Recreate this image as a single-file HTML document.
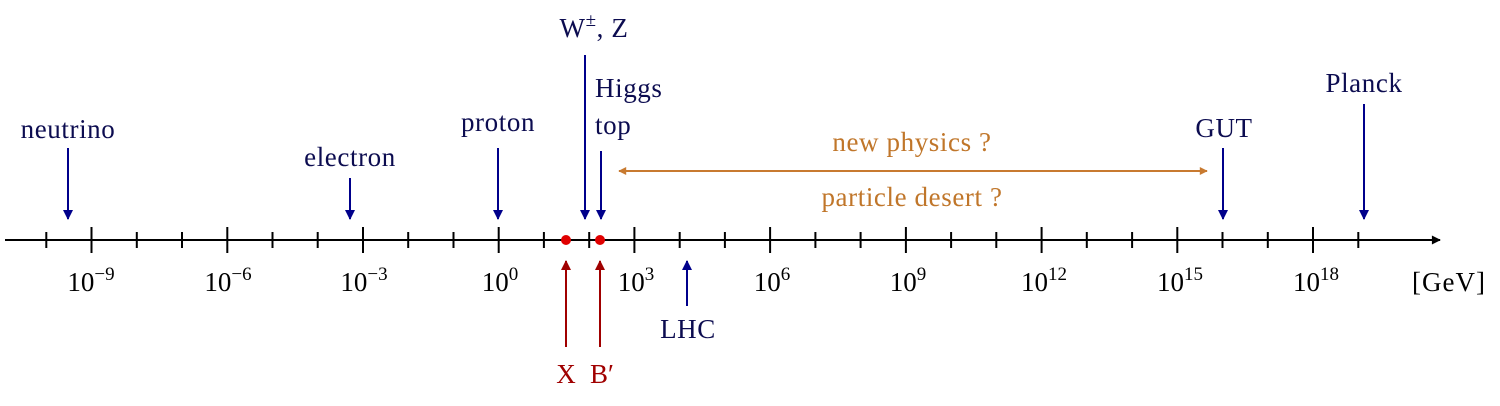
<!DOCTYPE html>
<html><head><meta charset="utf-8"><style>html,body{margin:0;padding:0;background:#fff}svg{display:block}</style></head>
<body>
<svg width="1500" height="406" viewBox="0 0 1500 406" xmlns="http://www.w3.org/2000/svg" font-family="'Liberation Serif', serif">
<defs>
<marker id="ab" viewBox="0 0 10 10" refX="9" refY="5" markerWidth="12" markerHeight="10" markerUnits="userSpaceOnUse" orient="auto"><path d="M0,0 L10,5 L0,10 z" fill="#00008b"/></marker>
<marker id="ar" viewBox="0 0 10 10" refX="9" refY="5" markerWidth="12" markerHeight="10" markerUnits="userSpaceOnUse" orient="auto"><path d="M0,0 L10,5 L0,10 z" fill="#a00000"/></marker>
<marker id="ao" viewBox="0 0 10 10" refX="9" refY="5" markerWidth="11" markerHeight="8" markerUnits="userSpaceOnUse" orient="auto-start-reverse"><path d="M0,0 L10,5 L0,10 z" fill="#c87a30"/></marker>
<marker id="ak" viewBox="0 0 10 10" refX="9" refY="5" markerWidth="12" markerHeight="9" markerUnits="userSpaceOnUse" orient="auto"><path d="M0,0 L10,5 L0,10 z" fill="#000"/></marker>
</defs>
<line x1="5" y1="240" x2="1440" y2="240" stroke="#000" stroke-width="2" marker-end="url(#ak)"/>
<g stroke="#000" stroke-width="2">
<line x1="46.3" y1="232" x2="46.3" y2="248"/><line x1="91.5" y1="227" x2="91.5" y2="253"/><line x1="136.8" y1="232" x2="136.8" y2="248"/><line x1="182" y1="232" x2="182" y2="248"/><line x1="227.3" y1="227" x2="227.3" y2="253"/><line x1="272.5" y1="232" x2="272.5" y2="248"/><line x1="317.7" y1="232" x2="317.7" y2="248"/><line x1="363" y1="227" x2="363" y2="253"/><line x1="408.2" y1="232" x2="408.2" y2="248"/><line x1="453.5" y1="232" x2="453.5" y2="248"/><line x1="498.7" y1="227" x2="498.7" y2="253"/><line x1="543.9" y1="232" x2="543.9" y2="248"/><line x1="589.2" y1="232" x2="589.2" y2="248"/><line x1="634.4" y1="227" x2="634.4" y2="253"/><line x1="679.7" y1="232" x2="679.7" y2="248"/><line x1="724.9" y1="232" x2="724.9" y2="248"/><line x1="770.1" y1="227" x2="770.1" y2="253"/><line x1="815.4" y1="232" x2="815.4" y2="248"/><line x1="860.6" y1="232" x2="860.6" y2="248"/><line x1="905.9" y1="227" x2="905.9" y2="253"/><line x1="951.1" y1="232" x2="951.1" y2="248"/><line x1="996.3" y1="232" x2="996.3" y2="248"/><line x1="1041.6" y1="227" x2="1041.6" y2="253"/><line x1="1086.8" y1="232" x2="1086.8" y2="248"/><line x1="1132.1" y1="232" x2="1132.1" y2="248"/><line x1="1177.3" y1="227" x2="1177.3" y2="253"/><line x1="1222.5" y1="232" x2="1222.5" y2="248"/><line x1="1267.8" y1="232" x2="1267.8" y2="248"/><line x1="1313" y1="227" x2="1313" y2="253"/><line x1="1358.3" y1="232" x2="1358.3" y2="248"/>
</g>
<g font-size="27" fill="#000" text-anchor="middle">
<text x="91" y="291">10<tspan font-size="19" dy="-11">−9</tspan></text>
<text x="228" y="291">10<tspan font-size="19" dy="-11">−6</tspan></text>
<text x="364" y="291">10<tspan font-size="19" dy="-11">−3</tspan></text>
<text x="500" y="291">10<tspan font-size="19" dy="-11">0</tspan></text>
<text x="636" y="291">10<tspan font-size="19" dy="-11">3</tspan></text>
<text x="772" y="291">10<tspan font-size="19" dy="-11">6</tspan></text>
<text x="908" y="291">10<tspan font-size="19" dy="-11">9</tspan></text>
<text x="1044" y="291">10<tspan font-size="19" dy="-11">12</tspan></text>
<text x="1180" y="291">10<tspan font-size="19" dy="-11">15</tspan></text>
<text x="1316" y="291">10<tspan font-size="19" dy="-11">18</tspan></text>
<text x="1449" y="291" letter-spacing="1">[GeV]</text>
</g>
<g stroke="#00008b" stroke-width="2">
<line x1="68" y1="148" x2="68" y2="219" marker-end="url(#ab)"/>
<line x1="350" y1="178" x2="350" y2="219" marker-end="url(#ab)"/>
<line x1="498" y1="148" x2="498" y2="219" marker-end="url(#ab)"/>
<line x1="585" y1="55" x2="585" y2="219" marker-end="url(#ab)"/>
<line x1="601" y1="151" x2="601" y2="219" marker-end="url(#ab)"/>
<line x1="1223" y1="148" x2="1223" y2="219" marker-end="url(#ab)"/>
<line x1="1364" y1="104" x2="1364" y2="219" marker-end="url(#ab)"/>
<line x1="687" y1="306" x2="687" y2="261" marker-end="url(#ab)"/>
</g>
<g stroke="#a00000" stroke-width="2">
<line x1="566" y1="347" x2="566" y2="261" marker-end="url(#ar)"/>
<line x1="600" y1="347" x2="600" y2="261" marker-end="url(#ar)"/>
</g>
<circle cx="566" cy="240" r="5" fill="#e00000"/>
<circle cx="600" cy="240" r="5" fill="#e00000"/>
<line x1="619" y1="171" x2="1207" y2="171" stroke="#c87a30" stroke-width="2" marker-start="url(#ao)" marker-end="url(#ao)"/>
<g font-size="27" fill="#0c0c50" text-anchor="middle" letter-spacing="0.6">
<text x="68" y="138">neutrino</text>
<text x="350" y="166">electron</text>
<text x="498" y="131">proton</text>
<text x="594" y="37">W<tspan font-size="19" dy="-11">±</tspan><tspan dy="11">, Z</tspan></text>
<text x="595" y="97" text-anchor="start">Higgs</text>
<text x="595" y="134" text-anchor="start">top</text>
<text x="1224" y="137">GUT</text>
<text x="1364" y="92">Planck</text>
<text x="688" y="338">LHC</text>
</g>
<g font-size="27" fill="#a00000" text-anchor="middle">
<text x="566" y="383">X</text>
<text x="602" y="383">B′</text>
</g>
<g font-size="27" fill="#c0762a" text-anchor="middle" letter-spacing="0.6">
<text x="912" y="151">new physics ?</text>
<text x="912" y="206">particle desert ?</text>
</g>
</svg>
</body></html>
